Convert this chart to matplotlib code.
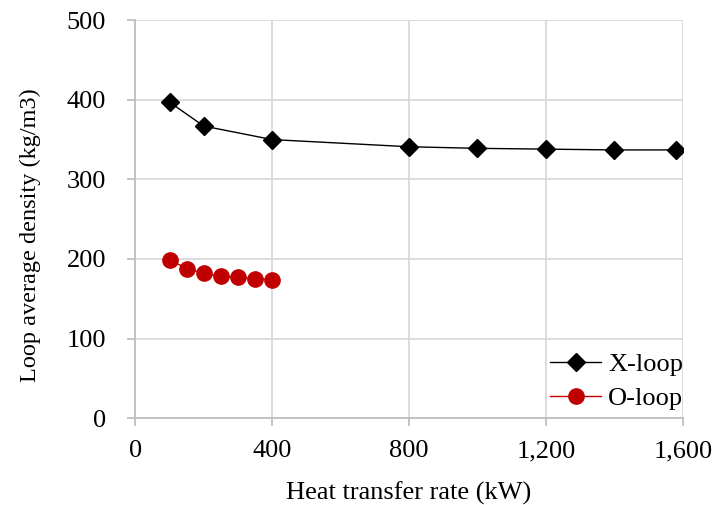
import matplotlib.pyplot as plt

plt.rcParams['font.family'] = ['Liberation Serif', 'DejaVu Serif']

# X-loop data
x_loop_q = [100, 200, 400, 800, 1000, 1200, 1400, 1580]
x_loop_rho = [397, 367, 350, 341, 339, 338, 337, 337]

# O-loop data
o_loop_q = [100, 150, 200, 250, 300, 350, 400]
o_loop_rho = [199, 188, 182, 178, 177, 175, 174]

x_ticks = [0, 400, 800, 1200, 1600]
y_ticks = [0, 100, 200, 300, 400, 500]

fig = plt.figure(figsize=(7.12, 5.05), dpi=100)
ax = fig.add_axes([0.19, 0.172, 0.769, 0.788])

grid_c = '#d9d9d9'
ax.plot(x_loop_q, x_loop_rho, color='black', lw=1.0, marker='D', ms=9,
        label='X-loop', zorder=3)
ax.plot(o_loop_q, o_loop_rho, color='#c00000', lw=1.0, marker='o', ms=11,
        label='O-loop', zorder=3)

ax.set_xlim(0, 1600)
ax.set_ylim(0, 500)
ax.set_xticks(x_ticks)
ax.set_xticklabels([f'{v:,}' for v in x_ticks])
ax.set_yticks(y_ticks)
ax.grid(True, color=grid_c, lw=1.3)
ax.set_axisbelow(True)

for s in ['top', 'right']:
    ax.spines[s].set_visible(False)
for s in ['left', 'bottom']:
    ax.spines[s].set_color('#bfbfbf')
    ax.spines[s].set_linewidth(1.3)

ax.tick_params(axis='both', colors='#bfbfbf', labelcolor='black',
               labelsize=19, length=6, width=1.3)
ax.tick_params(axis='x', pad=10)
ax.tick_params(axis='y', pad=15)

ax.set_xlabel('Heat transfer rate (kW)', fontsize=19, labelpad=14)
ax.set_ylabel('Loop average density (kg/m3)', fontsize=17.5)
ax.yaxis.set_label_coords(-0.172, 0.46)

ax.legend(loc='lower right', bbox_to_anchor=(1.015, 0.0), frameon=False,
          fontsize=19, handlelength=1.95, handletextpad=0.25,
          borderaxespad=0.0, borderpad=0.3, labelspacing=0.4)

fig.savefig('out.png', dpi=100)
